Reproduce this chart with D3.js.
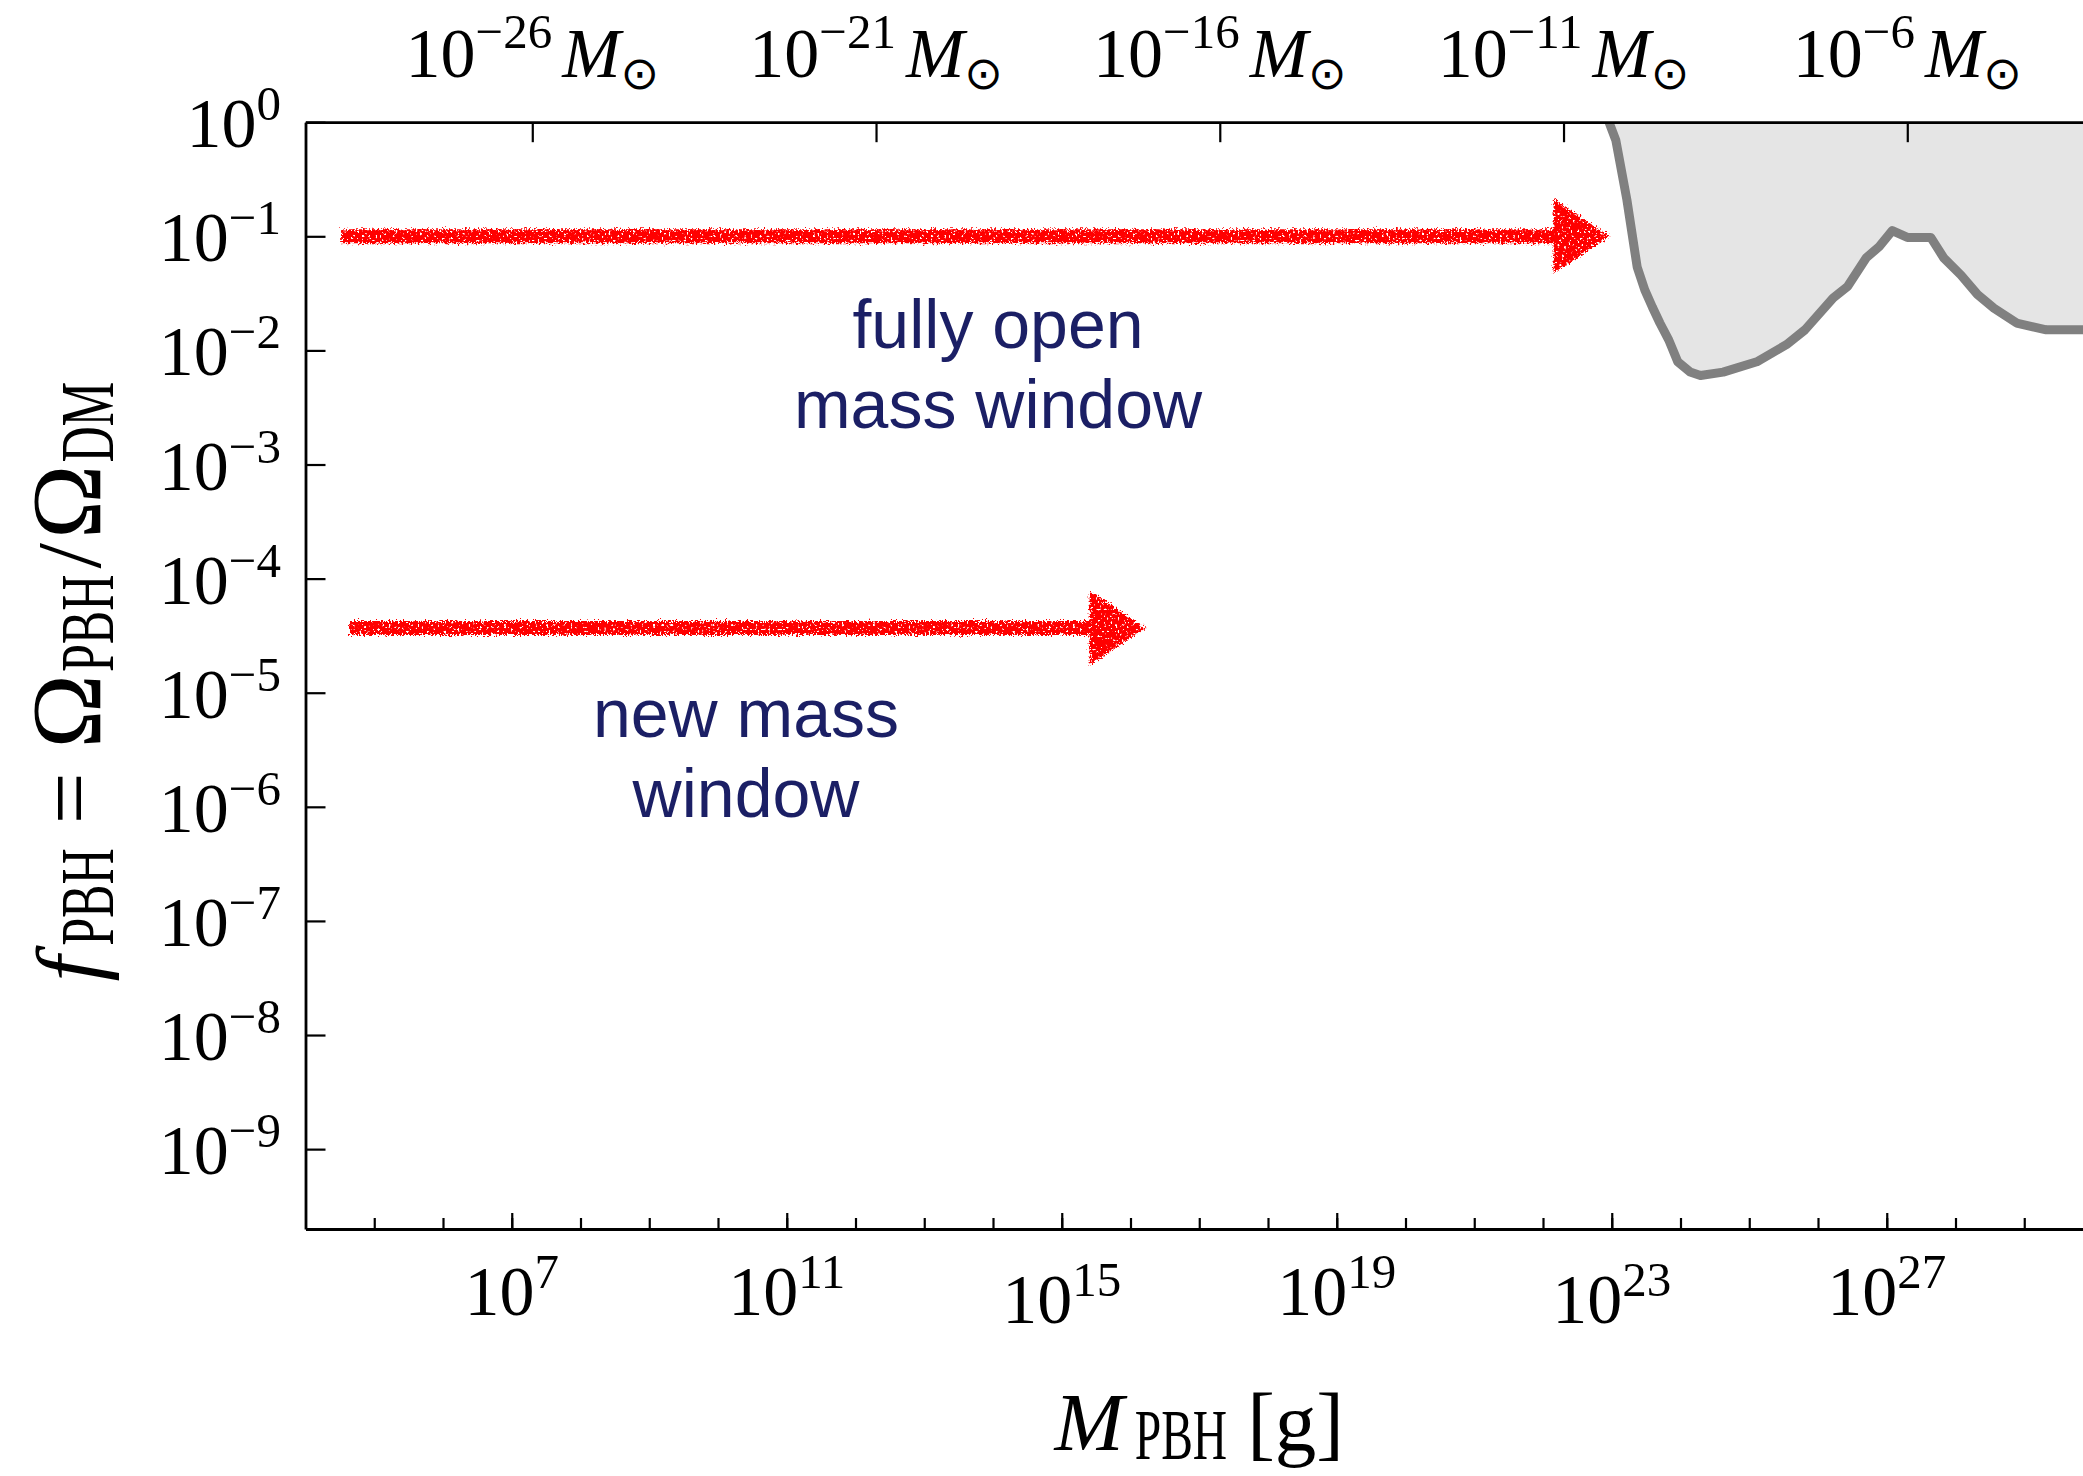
<!DOCTYPE html>
<html>
<head>
<meta charset="utf-8">
<script src="https://cdn.jsdelivr.net/npm/d3@7"></script>
<style>
  html, body { margin: 0; padding: 0; background: #fff; overflow: hidden; }
  svg { display: block; }
</style>
</head>
<body>
<div id="chart"></div>
<script>
// ---- Data -------------------------------------------------------------
// Axis ticks
const yTickExponents = [0, -1, -2, -3, -4, -5, -6, -7, -8, -9];
const xMajorExponents = [7, 11, 15, 19, 23, 27];
const xMinorExponents = d3.range(5, 30);
const solarMassExponents = [-26, -21, -16, -11, -6];
const SOLAR_MASS_G = 1.989e33;

// Upper boundary of the excluded region: log10(M/g) and log10(f_PBH)
const boundaryLogMass = [22.96, 23.06, 23.22, 23.37, 23.48, 23.59, 23.70, 23.83, 23.96, 24.14,
  24.29, 24.62, 25.11, 25.54, 25.81, 26.22, 26.43, 26.70, 26.89, 27.08, 27.30, 27.64, 27.83,
  28.08, 28.32, 28.56, 28.89, 29.32, 29.86, 30.0];
const boundaryLogF = [0.0, -0.16, -0.68, -1.27, -1.47, -1.62, -1.76, -1.91, -2.10, -2.19,
  -2.22, -2.19, -2.10, -1.95, -1.82, -1.54, -1.44, -1.19, -1.09, -0.95, -1.01, -1.01, -1.19,
  -1.34, -1.51, -1.63, -1.76, -1.82, -1.82, -1.82];

// Allowed-window arrows: start mass, tip mass (g) and abundance level
const arrowStartMass = [3.3e4, 4.3e4];
const arrowEndMass = [9.3e22, 1.66e16];
const arrowFraction = [0.1, 3.7e-5];

// Annotation lines
const openWindowLines = ["fully open", "mass window"];
const newWindowLines = ["new mass", "window"];

// ---- Layout -----------------------------------------------------------
const W = 2083, H = 1476;
const SERIF = "'Liberation Serif', 'Times New Roman', serif";
const SANS = "'Liberation Sans', Arial, Helvetica, sans-serif";

const x = d3.scaleLog().domain([1e4, 1e30]).range([305.5, 2093]);
const y = d3.scaleLog().domain([Math.pow(10, -9.7), 1]).range([1229, 122.2]);
const [x0, x1] = x.range();
const [yB, yT] = y.range();

const svg = d3.select("#chart").append("svg")
  .attr("width", W).attr("height", H)
  .attr("viewBox", `0 0 ${W} ${H}`);

const defs = svg.append("defs");
defs.append("clipPath").attr("id", "plot-clip")
  .append("rect").attr("x", x0).attr("y", yT).attr("width", x1 - x0).attr("height", yB - yT);

// Spray-paint texture for the arrows: ragged edges plus sparse pinholes
const spray = defs.append("filter").attr("id", "spray")
  .attr("filterUnits", "userSpaceOnUse")
  .attr("x", 0).attr("y", 0).attr("width", W).attr("height", H)
  .attr("color-interpolation-filters", "sRGB");
spray.append("feTurbulence").attr("type", "fractalNoise").attr("baseFrequency", 0.55)
  .attr("numOctaves", 2).attr("seed", 7).attr("result", "n1");
spray.append("feDisplacementMap").attr("in", "SourceGraphic").attr("in2", "n1")
  .attr("scale", 9).attr("xChannelSelector", "R").attr("yChannelSelector", "G").attr("result", "d");
spray.append("feTurbulence").attr("type", "fractalNoise").attr("baseFrequency", 0.45)
  .attr("numOctaves", 1).attr("seed", 3).attr("result", "n2");
spray.append("feColorMatrix").attr("in", "n2").attr("type", "matrix")
  .attr("values", "0 0 0 0 0  0 0 0 0 0  0 0 0 0 0  -12 0 0 0 8.4").attr("result", "mask");
spray.append("feComposite").attr("in", "d").attr("in2", "mask").attr("operator", "in");

// Rich text helper: pieces laid out left to right, each with own size/offset;
// sx narrows a piece horizontally (condensed sub-/superscripts)
function richText(parent, px, py, pieces, anchor) {
  const g = parent.append("g");
  let cx = 0;
  pieces.forEach(p => {
    const dx = p.dx || 0;
    const sx = p.sx || 1;
    const t = g.append("text")
      .attr("x", 0).attr("y", 0)
      .attr("transform", `translate(${cx + dx},${p.dy || 0}) scale(${sx},1)`)
      .attr("font-family", p.family || SERIF)
      .attr("font-size", p.size)
      .attr("font-style", p.italic ? "italic" : "normal")
      .attr("fill", p.fill || "#000")
      .text(p.text);
    const w = t.node().getComputedTextLength() * sx;
    cx += dx + w;
  });
  const shift = anchor === "middle" ? -cx / 2 : anchor === "end" ? -cx : 0;
  g.attr("transform", `translate(${px + shift},${py})`);
  return g;
}
const minus = s => String(s).replace("-", "\u2212");

// ---- Excluded region --------------------------------------------------
const boundary = boundaryLogMass.map((m, i) => ({ m: Math.pow(10, m), f: Math.pow(10, boundaryLogF[i]) }));
const plot = svg.append("g").attr("clip-path", "url(#plot-clip)");

plot.append("path").datum(boundary)
  .attr("d", d3.area().x(d => x(d.m)).y0(yT).y1(d => y(d.f)))
  .attr("fill", "#e5e5e5");
plot.append("path").datum(boundary)
  .attr("d", d3.line().x(d => x(d.m)).y(d => y(d.f)))
  .attr("fill", "none").attr("stroke", "#808080").attr("stroke-width", 9)
  .attr("stroke-linejoin", "round");

// ---- Arrows -----------------------------------------------------------
const shaftHalf = 7, headHalf = 37, headLen = 56;
arrowStartMass.forEach((m0, i) => {
  const xs = x(m0), xt = x(arrowEndMass[i]), yc = y(arrowFraction[i]);
  const xb = xt - headLen;
  const p = d3.path();
  p.moveTo(xs, yc - shaftHalf);
  p.lineTo(xb, yc - shaftHalf);
  p.lineTo(xb, yc - headHalf);
  p.lineTo(xt, yc);
  p.lineTo(xb, yc + headHalf);
  p.lineTo(xb, yc + shaftHalf);
  p.lineTo(xs, yc + shaftHalf);
  p.closePath();
  svg.append("path").attr("d", p.toString())
    .attr("fill", "#ff0000").attr("filter", "url(#spray)");
});

// ---- Annotations ------------------------------------------------------
const NAVY = "#1b1f65";
function block(lines, cx, baseY) {
  lines.forEach((t, i) => {
    svg.append("text").attr("x", cx).attr("y", baseY + i * 80)
      .attr("text-anchor", "middle").attr("font-family", SANS)
      .attr("font-size", 68).attr("fill", NAVY).text(t);
  });
}
block(openWindowLines, 998, 348);
block(newWindowLines, 746, 737);

// ---- Axes -------------------------------------------------------------
function styleAxis(g) {
  g.selectAll("path.domain").attr("stroke", "#000").attr("stroke-width", 2.8);
  g.selectAll(".tick line").attr("stroke", "#000").attr("stroke-width", 2.2);
  g.selectAll(".tick text").remove();
}
const noLabel = () => "";

svg.append("g").attr("transform", `translate(0,${yB})`)
  .call(d3.axisBottom(x).tickValues(xMinorExponents.map(e => Math.pow(10, e)))
    .tickSize(-11).tickSizeOuter(0).tickFormat(noLabel)).call(styleAxis);
svg.append("g").attr("transform", `translate(0,${yB})`)
  .call(d3.axisBottom(x).tickValues(xMajorExponents.map(e => Math.pow(10, e)))
    .tickSize(-16).tickSizeOuter(0).tickFormat(noLabel)).call(styleAxis);
svg.append("g").attr("transform", `translate(0,${yT})`)
  .call(d3.axisTop(x).tickValues(solarMassExponents.map(e => Math.pow(10, e) * SOLAR_MASS_G))
    .tickSize(-20).tickSizeOuter(0).tickFormat(noLabel)).call(styleAxis);
svg.append("g").attr("transform", `translate(${x0},0)`)
  .call(d3.axisLeft(y).tickValues(yTickExponents.map(e => Math.pow(10, e)))
    .tickSize(-20).tickSizeOuter(0).tickFormat(noLabel)).call(styleAxis);
// right frame edge (sits just past the visible area)
svg.append("line").attr("x1", x1).attr("x2", x1).attr("y1", yT).attr("y2", yB)
  .attr("stroke", "#000").attr("stroke-width", 2.8);

// Tick labels: powers of ten with superscript exponents
yTickExponents.forEach(e => {
  richText(svg, 281, y(Math.pow(10, e)) + 25, [
    { text: "10", size: 70 },
    { text: minus(e), size: 49, dy: -27 }
  ], "end");
});
const loweredLabels = new Set([15, 23]);
xMajorExponents.forEach(e => {
  richText(svg, x(Math.pow(10, e)), 1315 + (loweredLabels.has(e) ? 8 : 0), [
    { text: "10", size: 70 },
    { text: String(e), size: 49, dy: -27 }
  ], "middle");
});
solarMassExponents.forEach(e => {
  richText(svg, x(Math.pow(10, e) * SOLAR_MASS_G), 77, [
    { text: "10", size: 70 },
    { text: minus(e), size: 49, dy: -29 },
    { text: "M", size: 70, italic: true, dx: 10 },
    { text: "\u2299", size: 46, dy: 12, dx: 0, family: "'DejaVu Sans', sans-serif" }
  ], "middle");
});

// Axis titles
richText(svg, (x0 + x1) / 2, 1450, [
  { text: "M", size: 83, italic: true },
  { text: "PBH", size: 72, sx: 0.66, dy: 9, dx: 11 },
  { text: "[g]", size: 83, dx: 20 }
], "middle");

const yTitle = svg.append("g")
  .attr("transform", `translate(100,${(yT + yB) / 2 + 6}) rotate(-90)`);
richText(yTitle, 0, 0, [
  { text: "f", size: 92, italic: true },
  { text: "PBH", size: 76, sx: 0.66, dy: 13, dx: 10 },
  { text: "=", size: 92, dx: 24 },
  { text: "\u03A9", size: 100, dx: 24 },
  { text: "PBH", size: 76, sx: 0.66, dy: 13, dx: 2 },
  { text: "/", size: 92, dx: 6 },
  { text: "\u03A9", size: 100, dx: 4 },
  { text: "DM", size: 76, sx: 0.66, dy: 13, dx: 2 }
], "middle");
</script>
</body>
</html>
